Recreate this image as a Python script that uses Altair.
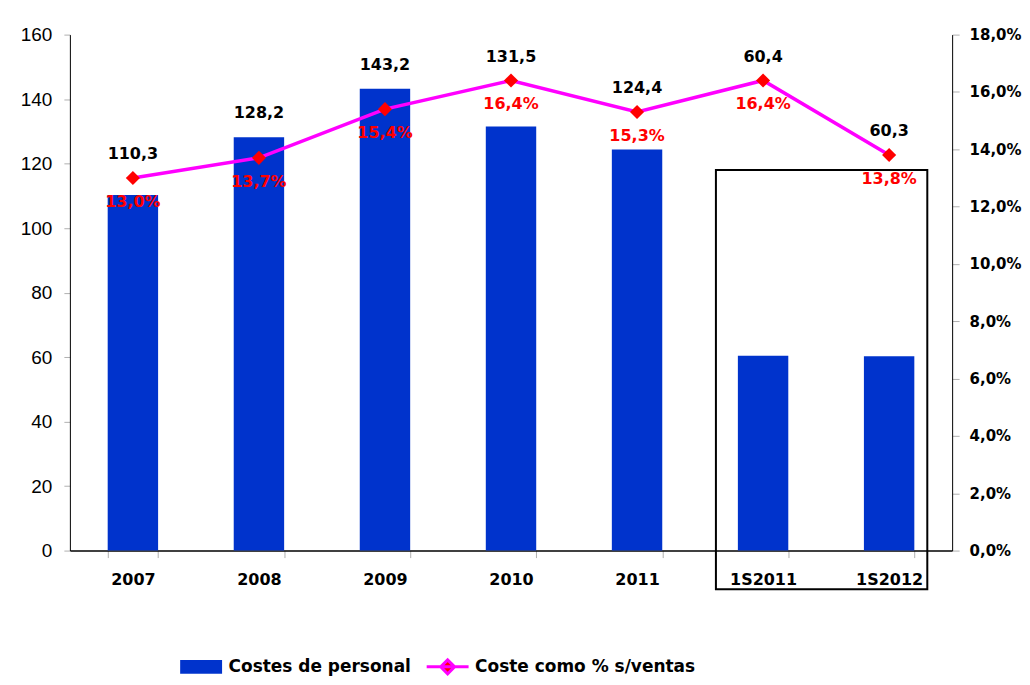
import altair as alt
import pandas as pd

categories = ["2007", "2008", "2009", "2010", "2011", "1S2011", "1S2012"]
costes = [110.3, 128.2, 143.2, 131.5, 124.4, 60.4, 60.3]
pct = [13.0, 13.7, 15.4, 16.4, 15.3, 16.4, 13.8]

bar_name = "Costes de personal"
line_name = "Coste como % s/ventas"

df = pd.DataFrame({"cat": categories, "costes": costes, "pct": pct})
df["s1"] = bar_name
df["s2"] = line_name
df["lab_cost"] = [f"{v:.1f}".replace(".", ",") for v in costes]
df["lab_pct"] = [f"{v:.1f}%".replace(".", ",") for v in pct]

# highlight box around the half-year categories
box_df = pd.DataFrame({"start": ["1S2011"], "end": ["1S2012"], "top": [118], "bottom": [-12]})

FONT = "DejaVu Sans"
BLUE = "#0033CC"
MAGENTA = "#FF00FF"
RED = "#FF0000"

xscale = alt.Scale(domain=categories, paddingInner=0.6, paddingOuter=0.3)
xenc = alt.X(
    "cat:N", sort=categories, scale=xscale,
    axis=alt.Axis(title=None, labelAngle=0, labelFont=FONT, labelFontWeight="bold",
                  labelFontSize=16, labelColor="black", labelPadding=14,
                  tickBand="extent", tickColor="#b0b0b0", tickSize=7,
                  domainColor="black", domainWidth=1.5),
)

lscale = alt.Scale(domain=[0, 160], nice=False, zero=True)
left_axis = alt.Axis(values=list(range(0, 161, 20)), title=None, labelFont="Liberation Sans",
                     labelFontSize=19, labelColor="black", tickColor="#b0b0b0", tickSize=6,
                     domainColor="black", labelPadding=12, grid=False)

base = alt.Chart(df)

bars = base.mark_bar(opacity=1).encode(
    x=xenc,
    y=alt.Y("costes:Q", scale=lscale, axis=left_axis),
    color=alt.Color("s1:N", scale=alt.Scale(domain=[bar_name], range=[BLUE]),
                    legend=alt.Legend(title=None, orient="none", legendX=109, legendY=625,
                                      symbolType="M-3,-1H3V1H-3Z", symbolSize=196,
                                      symbolOffset=14, labelOffset=19,
                                      symbolStrokeWidth=0, symbolOpacity=1,
                                      labelFont=FONT, labelFontWeight="bold", labelFontSize=17,
                                      labelColor="black", labelLimit=400)),
)

bar_labels = base.transform_calculate(
    laby="max(datum.costes, datum.pct * 160 / 18)"
).mark_text(dy=-24, font=FONT, fontWeight="bold", fontSize=16, color="black").encode(
    x=alt.X("cat:N", sort=categories, scale=xscale),
    y=alt.Y("laby:Q", scale=lscale),
    text="lab_cost:N",
)

box = alt.Chart(box_df).mark_rect(fillOpacity=0, stroke="black", strokeWidth=2,
                                  xOffset=-22, x2Offset=13).encode(
    x=alt.X("start:N", sort=categories, scale=xscale, bandPosition=0),
    x2=alt.X2("end:N", bandPosition=1),
    y=alt.Y("top:Q", scale=lscale),
    y2="bottom:Q",
)

left = alt.layer(bars, bar_labels, box)

rscale = alt.Scale(domain=[0, 18], nice=False, zero=True)
right_axis = alt.Axis(orient="right", values=list(range(0, 19, 2)), title=None,
                      labelExpr="replace(format(datum.value, '.1f'), '.', ',') + '%'",
                      labelFont=FONT, labelFontWeight="bold", labelFontSize=15, labelColor="black",
                      tickColor="#b0b0b0", tickSize=7, domainColor="black", labelPadding=10,
                      grid=False)

line = base.mark_line(strokeWidth=3.5).encode(
    x=alt.X("cat:N", sort=categories, scale=xscale),
    y=alt.Y("pct:Q", scale=rscale, axis=right_axis),
    stroke=alt.Stroke("s2:N", scale=alt.Scale(domain=[line_name], range=[MAGENTA]),
                      legend=alt.Legend(title=None, orient="none", legendX=356, legendY=625,
                                        symbolType="M-3,0H3M-1,0L0,-1L1,0L0,1Z",
                                        symbolSize=196, symbolOffset=14, labelOffset=19,
                                        symbolStrokeWidth=3, symbolFillColor=RED,
                                        labelFont=FONT, labelFontWeight="bold", labelFontSize=17,
                                        labelColor="black", labelLimit=400)),
)

points = base.mark_point(shape="diamond", filled=True, color=RED, size=200, opacity=1).encode(
    x=alt.X("cat:N", sort=categories, scale=xscale),
    y=alt.Y("pct:Q", scale=rscale),
)

pct_labels = base.mark_text(dy=24, font=FONT, fontWeight="bold", fontSize=16, color=RED).encode(
    x=alt.X("cat:N", sort=categories, scale=xscale),
    y=alt.Y("pct:Q", scale=rscale),
    text="lab_pct:N",
)

right = alt.layer(line, points, pct_labels)

chart = alt.layer(left, right).resolve_scale(y="independent").properties(
    width=884, height=517, padding={"left": 12, "top": 17, "right": 0, "bottom": 0}
).configure_view(stroke="transparent")

chart.save("out.html", embed_options={"renderer": "svg", "actions": False})
